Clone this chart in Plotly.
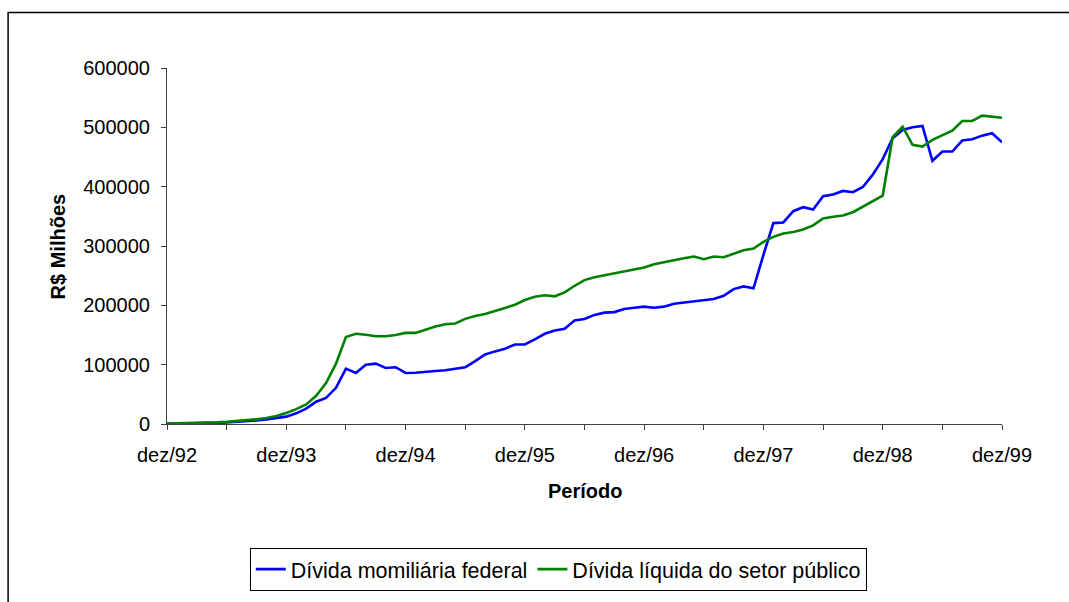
import plotly.graph_objects as go

# Monthly periods, dez/92 .. dez/99
meses = ["jan", "fev", "mar", "abr", "mai", "jun", "jul", "ago", "set", "out", "nov", "dez"]
periodos = ["dez/92"] + [f"{m}/{a:02d}" for a in range(93, 100) for m in meses]

# R$ milhões
divida_mobiliaria = [
    400, 500, 700, 1000, 1400, 1900, 2600, 3400, 4500, 6000, 7800, 9800,
    12400, 18000, 26000, 37500, 44000, 61000, 93400, 86000, 100000, 101700, 94500, 95700,
    86000, 86300, 88300, 89400, 90500, 93400, 95600, 106000, 117300, 122400, 126900, 134000,
    134000, 142500, 152000, 157600, 160400, 174300, 177000, 183900, 187700, 188600, 193900, 196000,
    197800, 196000, 197800, 202800, 205100, 206200, 209000, 210700, 216200, 227400, 231900, 228600,
    285000, 338600, 339700, 358700, 365400, 361500, 383800, 386700, 392800, 390600, 399500, 420200,
    446500, 481700, 495600, 500100, 502300, 443600, 459200, 459200, 477700, 480000, 486000, 490000,
    475000,
]

divida_liquida = [
    600, 800, 1100, 1500, 2000, 2700, 3500, 4600, 6000, 7800, 10200, 13500,
    18400, 25000, 33000, 47600, 69000, 101700, 146500, 152000, 150300, 148000, 147800, 150000,
    153500, 153500, 158700, 164300, 168200, 169300, 177200, 182200, 185500, 190000, 195600, 201100,
    209000, 214500, 216900, 215200, 221900, 233000, 242500, 247500, 251000, 254500, 257500, 261500,
    263800, 269300, 273200, 276000, 279400, 282200, 277700, 282200, 281100, 287200, 292800, 295600,
    307000, 315400, 321000, 323500, 328000, 334700, 346400, 349200, 351500, 357000, 366000, 375400,
    385000, 483400, 501000, 470400, 467600, 478800, 486000, 494400, 510700, 510700, 519600, 517400,
    516200,
]

nomes = ["Dívida momiliária federal", "Dívida líquida do setor público"]
cores = ["#0000FF", "#008000"]
titulo_x = "Período"
titulo_y = "R$ Milhões"
y_ticks = [0, 100000, 200000, 300000, 400000, 500000, 600000]

FONT = "Liberation Sans, Arial, sans-serif"

# tick marks every six months, labels only at each December
tick_vals = periodos[::6]
tick_text = [p if p.startswith("dez") else "" for p in tick_vals]

fig = go.Figure()
for nome, serie, cor in zip(nomes, [divida_mobiliaria, divida_liquida], cores):
    fig.add_trace(go.Scatter(
        x=periodos, y=serie, mode="lines", name=nome,
        line=dict(color=cor, width=2.6),
    ))

fig.update_layout(
    width=1069, height=602,
    margin=dict(l=167, r=67, t=68, b=176),
    paper_bgcolor="white", plot_bgcolor="white",
    font=dict(family=FONT, size=20, color="black"),
    showlegend=True,
    legend=dict(
        orientation="h", x=0.4686, xanchor="center", y=-0.4078, yanchor="middle",
        bordercolor="black", borderwidth=1, bgcolor="white",
        font=dict(family=FONT, size=21.5, color="black"),
        itemwidth=30, tracegroupgap=0,
    ),
    xaxis=dict(
        type="category", range=[0, len(periodos) - 1],
        tickvals=tick_vals, ticktext=tick_text,
        ticks="outside", ticklen=5, tickwidth=1, tickcolor="#404040",
        ticklabelstandoff=8,
        showline=True, linecolor="#404040", linewidth=1,
        showgrid=False, zeroline=False,
        tickfont=dict(family=FONT, size=20, color="black"),
    ),
    yaxis=dict(
        range=[0, 600000], tickvals=y_ticks,
        ticktext=[str(v) for v in y_ticks],
        ticks="outside", ticklen=5, tickwidth=1, tickcolor="#404040",
        ticklabelstandoff=7,
        showline=True, linecolor="#404040", linewidth=1,
        showgrid=False, zeroline=False,
        tickfont=dict(family=FONT, size=20, color="black"),
    ),
    annotations=[
        dict(text=f"<b>{titulo_x}</b>", xref="paper", yref="paper",
             x=0.5003, y=-0.187, xanchor="center", yanchor="middle",
             showarrow=False, font=dict(family=FONT, size=20, color="black")),
        dict(text=f"<b>{titulo_y}</b>", xref="paper", yref="paper",
             x=-0.130, y=0.5, xanchor="center", yanchor="middle", textangle=-90,
             showarrow=False, font=dict(family=FONT, size=20, color="black")),
    ],
    shapes=[
        # outer chart frame (runs past the right and bottom edges)
        dict(type="rect", xref="paper", yref="paper",
             x0=-0.1903, y0=-0.55, x1=1.2, y1=1.156,
             line=dict(color="black", width=1.5), fillcolor="rgba(0,0,0,0)",
             layer="below"),
    ],
)

fig.write_html("out.html")
